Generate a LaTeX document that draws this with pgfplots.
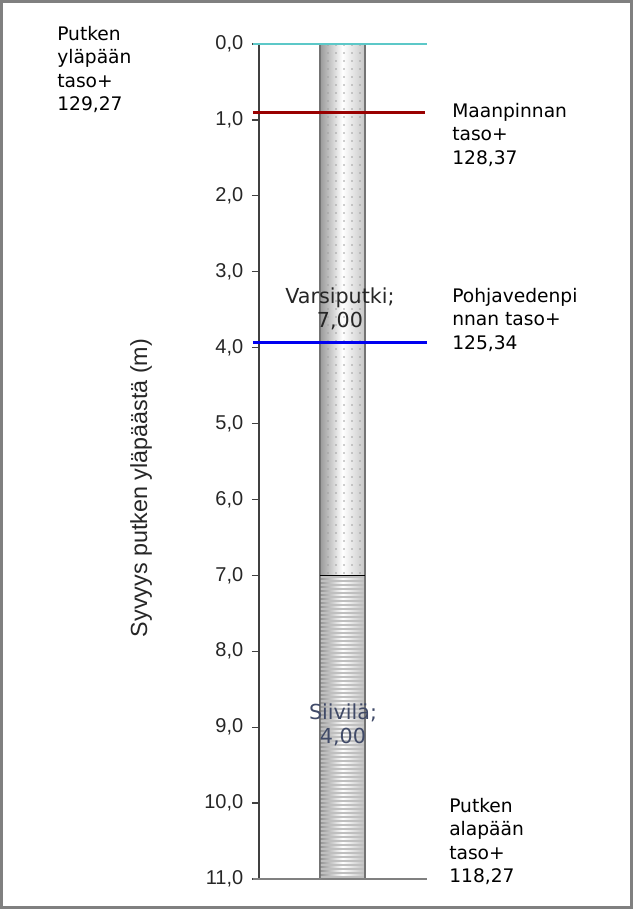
\documentclass[border=0pt]{standalone}
\usepackage{fontspec}
\setmainfont{Liberation Sans}
\newfontfamily\verd{DejaVu Sans}
\usepackage{pgfplots}
\pgfplotsset{compat=1.18}
\usetikzlibrary{patterns.meta}
\definecolor{toplvl}{RGB}{92,200,200}
\definecolor{groundlvl}{RGB}{153,0,0}
\definecolor{waterlvl}{RGB}{0,0,240}
\definecolor{bottomlvl}{RGB}{128,128,128}
\definecolor{axisgray}{RGB}{64,64,64}
\definecolor{framegray}{RGB}{128,128,128}
\definecolor{screentxt}{RGB}{64,74,104}
\begin{document}
\begin{tikzpicture}
\begin{axis}[
  scale only axis, width=128.25pt, height=626.25pt,
  xmin=259, xmax=430, ymin=0, ymax=11, y dir=reverse,
  axis x line=none, axis y line*=left,
  axis line style={draw=axisgray, line width=1.1pt},
  ytick={0,1,...,11}, tick align=outside, major tick length=5.25pt,
  tick style={draw=axisgray, line width=1pt},
  yticklabel style={font=\fontsize{15}{17}\selectfont, text=black!85, xshift=-3pt},
  /pgf/number format/.cd, fixed, fixed zerofill, precision=1, use comma, assume math mode=true,
  /pgfplots/.cd,
  clip=false]

% frame
\draw[framegray, line width=2.25pt] (axis cs:1.5,-0.5599) rectangle (axis cs:631.5,11.3754);

% casing (0-7 m)
\addplot[draw=gray!90!black, line width=0.8pt, left color=gray!80, right color=gray!45, middle color=white]
  coordinates {(320,0) (365,0) (365,7) (320,7)} -- cycle;
\addplot[draw=none, pattern={Dots[radius=0.65pt, distance=6pt]}, pattern color=gray!75]
  coordinates {(321,0) (364,0) (364,7) (321,7)} -- cycle;
% screen (7-11 m)
\addplot[draw=gray!90!black, line width=0.8pt, left color=gray!85, right color=gray!50, middle color=white]
  coordinates {(320,7) (365,7) (365,11) (320,11)} -- cycle;
\addplot[draw=none, pattern={Lines[angle=0, distance=3pt, line width=1.1pt]}, pattern color=gray!50]
  coordinates {(321,7) (364,7) (364,11) (321,11)} -- cycle;
\addplot[black, line width=0.6pt] coordinates {(320,7) (365,7)};

% levels
\addplot[toplvl, line width=2pt] coordinates {(253,0) (427,0)};
\addplot[groundlvl, line width=1.8pt] coordinates {(253,0.9) (425,0.9)};
\addplot[waterlvl, line width=1.8pt] coordinates {(253,3.93) (427,3.93)};
\addplot[bottomlvl, line width=2.2pt] coordinates {(253,11) (427,11)};

% texts
\node[rotate=90, font=\fontsize{17.5}{20}\selectfont, text=black!85] at (axis cs:141,5.849) {Syvyys putken yläpäästä (m)};
\node[anchor=north west, inner sep=0pt, align=left, font=\verd\fontsize{14}{17.6}\selectfont] at (axis cs:57,-0.237) {Putken\\yläpään\\taso+\\129,27};
\node[anchor=north west, inner sep=0pt, align=left, font=\verd\fontsize{14}{17.6}\selectfont] at (axis cs:452,0.777) {Maanpinnan\\taso+\\128,37};
\node[anchor=north west, inner sep=0pt, align=left, font=\verd\fontsize{14}{17.6}\selectfont] at (axis cs:452,3.214) {Pohjavedenpi\\nnan taso+\\125,34};
\node[anchor=north west, inner sep=0pt, align=left, font=\verd\fontsize{14}{17.6}\selectfont] at (axis cs:449,9.933) {Putken\\alapään\\taso+\\118,27};
\node[align=center, inner sep=0pt, font=\verd\fontsize{15.5}{18}\selectfont, text=black!85] at (axis cs:340,3.491) {Varsiputki;\\7,00};
\node[align=center, inner sep=0pt, font=\verd\fontsize{15.5}{18}\selectfont, text=screentxt] at (axis cs:343,8.971) {Siivilä;\\4,00};
\end{axis}
\end{tikzpicture}
\end{document}
